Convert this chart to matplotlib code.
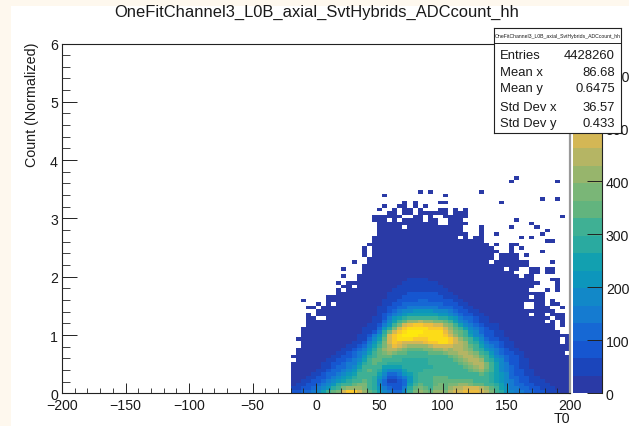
import numpy as np
import matplotlib
matplotlib.use("Agg")
import matplotlib.pyplot as plt
from matplotlib.colors import ListedColormap, Normalize
from matplotlib.patches import Rectangle

plt.rcParams['font.family'] = ['Liberation Sans', 'DejaVu Sans']

TITLE = "OneFitChannel3_L0B_axial_SvtHybrids_ADCcount_hh"
XLABEL = "T0"
YLABEL = "Count (Normalized)"
STATS_NAMES = ["Entries", "Mean x", "Mean y", "Std Dev x", "Std Dev y"]
STATS_VALUES = ["4428260", "86.68", "0.6475", "36.57", "0.433"]
XTICKS = [-200, -150, -100, -50, 0, 50, 100, 150, 200]
YTICKS = [0, 1, 2, 3, 4, 5, 6]
ZTICKS = [0, 100, 200, 300, 400, 500, 600]
ZMAX = 660
X_FIRST_BIN = -20
X_BIN_WIDTH = 4
Y_BIN_WIDTH = 0.06

PALETTE = ["#2a3aa6", "#1b45bb", "#1656d0", "#1668d4", "#157bd0", "#1288c8", "#0d96bc",
           "#12a0b0", "#2aaaa0", "#3fb094", "#62b47e", "#7ab677", "#97b56c", "#b5b564",
           "#d4b755", "#ecbc3f", "#f8c82d", "#fbd221", "#fcdc18", "#fee90d"]

# Read-off cell counts per symbol; ' ' is an empty cell.
SYMBOLS = "0123456789abcdefghij"
SYMBOL_COUNTS = [16, 49, 82, 115, 148, 181, 214, 247, 280, 313,
                 313, 346, 379, 412, 445, 478, 511, 544, 610, 643]

# Cells, top row first; groups of five bins, | only separates them.
ROWS = [
 "     |     |     |     |     |     |     |     |    0|     |     ",  # r61
 "     |     |     |     |     |     |     |     |   0 |     |  0  ",
 "     |     |     |     |     |     |     |     |     |     |     ",
 "     |     |     |     |     |     |     |     |     |     |     ",
 "     |     |     |     |     |0 0  |     |  0  |     |     |     ",  # r57
 "     |     |     |   0 |     |     |0    |     |     |     |     ",
 "     |     |     |     |     |     |     |     |     |    0|  0  ",
 "     |     |     |     |  0 0|    0|0    |     | 0   |     |     ",
 "     |     |     |   0 | 00 0| 0   |     |     |     |     |     ",
 "     |     |     |  0  |0 00 |0   0|0 0 0|     |     |     |     ",  # r52
 "     |     |     |    0|0 00 |00000|0 000|     |     |     |     ",
 "     |     |     | 0000|00  0|0 0  |00000|     |     |     |   0 ",
 "     |     |     | 000 |0 000|0 00 | 000 |     |    0|     |     ",
 "     |     |     |  000|00000|0000 | 0000|     |     |  0  |     ",
 "     |     |     |  000|00 00|00000|0000 |  0  |   0 |   0 |     ",  # r47
 "     |     |     |  000|00000|00000|0000 |  0  |     |     |0    ",
 "     |     |     |  000|00000|00000|00000|  0  |0    |    0|     ",
 "     |     |     | 0000|00000|00000|000 0| 00  |     |0 0  |     ",
 "     |     |     | 0000|00000|00000|00000|000  |     |     |00   ",
 "     |     |     |00000|00000|00000|00000|0000 |0  00|     |     ",  # r42
 "     |     |    0| 0000|00000|00000|00000|00000|   0 |0    |     ",
 "     |     |    0| 0000|00000|00000|00000|00000|0  0 |    0|     ",
 "     |     |    0| 0000|00000|00000|00000|00000| 0000| 0   |     ",
 "     |     |     |00000|00000|00000|00000|00000| 0000|     |     ",
 "     |     |  0  |00000|00000|00000|00000|0000 |00000|00   | 0   ",  # r37
 "     |     |    0|00000|00000|00000|00000|00000|00000|00   |     ",
 "     |     |0   0|00000|00000|00000|00000|00000|00 00|  00 |00   ",
 "     |     |    0|00000|00000|00000|00000|00000|0000 |  00 |00   ",
 "     |     |0  00|00000|00000|00000|00000|00000|00000| 00  |     ",
 "     |     |   00|00000|00011|11000|00000|00000|00000|000  | 00  ",  # r32
 "     |    0| 0000|00000|00111|11110|00000|00000|00000|0000 |  0  ",
 "     |     |00 00|00000|01111|11111|00000|00000|00000|000  |  0  ",
 "     |    0| 0000|00000|11111|11111|10000|00000|00000|00   |0 0  ",
 "     |    0|00000|00001|11122|22221|11000|00000|00000|00000|     ",
 "     |  000|00000|00001|11222|22222|11100|00000|00000|00 00|     ",  # r27
 "  0  |  000|00000|00011|12222|33222|22110|00000|00000|00000| 0   ",
 "     |0 0 0|00000|00011|22333|33333|22211|00000|00000|0  00| 00  ",
 "   00| 0000|00000|00112|23344|44443|33221|10000|00000|0  00|0  0 ",
 "     |00000|00000|00112|34556|66655|54322|11000|00000|00000|00   ",
 "   0 |00000|00000|00123|45677|77776|65432|21100|00000|00 00| 000 ",  # r22
 "   00|  000|00000|01124|6789a|aa998|87643|32110|00000|00000|0 00 ",
 "   00|00000|00000|01135|79bdd|eddcc|b9754|32110|00000|00000| 0 0 ",
 "   00|00000|00000|11246|9cfgh|hggff|dc975|43211|10000|00000|00 0 ",
 "  000|00000|00001|11368|cfhii|iihhh|fdb97|54321|10000|00000|00   ",
 "  000|00000|00001|1248c|fhijj|jiiii|gecb9|65322|11000|00000|000  ",  # r17
 "  000|00000|00011|246af|hijjj|iiiii|hfdb9|75422|11000|00000|00000",
 " 0000|00000|00011|357bf|hiiih|hhiii|ihfdb|97532|21100|00000|000 0",
 "  000|00000|00112|468cf|hgfff|fghhi|ihfed|a8643|32110|00000|000 0",
 "  000|00000|01123|579ce|gfedd|ddeff|ffeed|b9754|32110|00000|00000",
 " 0000|00000|11234|68bde|edcbb|bccdd|edeed|ca865|43211|00000|00000",  # r12
 " 0000|00001|12345|79bcd|cbbaa|aabbb|cddee|dca86|43221|10000|0000 ",
 "00000|00011|22346|8abbb|a9999|99aaa|abcde|edb97|54322|10000|00000",
 " 0000|00112|23457|9bba9|99888|88999|9abcd|eeda8|65322|11000|00000",
 "00000|01122|34468|aba98|88888|88999|99abc|deeca|75422|11000|00000",
 "00000|01123|34579|aa977|77888|88899|999ab|cdeca|75432|11000|00000",  # r7
 "00000|11233|4568a|ba865|55788|89999|9999a|bcdb9|75432|21100|00000",
 "00001|12334|5679a|a9753|34678|999aa|99999|9aba8|76532|21100|00000",
 "00011|22345|6789a|a8642|23468|99abb|baaaa|99a98|76533|22110|00000",
 "00112|23456|789ab|a8531|12368|a9abb|bbbbb|baa98|76543|22111|00000",
 "01122|34568|9abcc|a8532|2237a|baabc|bccdd|cbba9|87543|32211|10000",  # r2
 "11223|4568a|cdddc|a8643|2248b|cbacc|bdeef|ffedb|97644|33221|11000",
 "22334|579bc|fhhfd|b9754|3359c|dcbdd|ceffg|ggfec|a8654|43322|11100",
]

cells = [r.replace("|", "") for r in ROWS][::-1]
lookup = dict(zip(SYMBOLS, SYMBOL_COUNTS))
counts = np.array([[lookup.get(ch, np.nan) for ch in row] for row in cells], dtype=float)
counts = np.ma.masked_invalid(counts)
ny, nx = counts.shape
x_edges = X_FIRST_BIN + X_BIN_WIDTH * np.arange(nx + 1)
y_edges = Y_BIN_WIDTH * np.arange(ny + 1)

W, H = 629, 427
fig = plt.figure(figsize=(W / 100, H / 100), dpi=100, facecolor="#fef8ee")

def box(l, t, r, b):
    return [l / W, 1 - b / H, (r - l) / W, (b - t) / H]

fig.patches.append(Rectangle((11 / W, 0), 1 - 11 / W, 1 - 7 / H, transform=fig.transFigure,
                             facecolor="white", edgecolor="none", zorder=-5))

cmap = ListedColormap(PALETTE)
norm = Normalize(0, ZMAX)
INK = "#222222"
TXT = "#1a1a1a"

ax = fig.add_axes(box(62, 44.5, 570, 394.3))
ax.pcolormesh(x_edges, y_edges, counts, cmap=cmap, norm=norm, linewidth=0, rasterized=True)
ax.set_xlim(-200, 200)
ax.set_ylim(0, 6)
ax.set_xticks(XTICKS)
ax.set_yticks(YTICKS)
ax.set_xticks(np.arange(-200, 201, 10), minor=True)
ax.set_yticks(np.arange(0, 6.01, 0.2), minor=True)
ax.tick_params(axis='x', which='major', direction='in', length=7.5, width=0.7, color=INK,
               labelsize=10.2, pad=3.5, labelcolor=TXT)
ax.tick_params(axis='x', which='minor', direction='in', length=3.7, width=0.6, color=INK)
ax.tick_params(axis='y', which='major', direction='in', length=11, width=0.7, color=INK,
               labelsize=10.2, pad=3, labelcolor=TXT)
ax.tick_params(axis='y', which='minor', direction='in', length=5.6, width=0.6, color=INK)
for name, sp in ax.spines.items():
    sp.set_linewidth(0.8)
    sp.set_color(INK)
ax.spines['right'].set_color("#999999")
ax.spines['right'].set_linewidth(1.6)

fig.text(316.5 / W, 1 - 12 / H, TITLE, ha='center', va='center', fontsize=11.9, color=TXT)
fig.text(32 / W, 1 - 167 / H, YLABEL, rotation=90, ha='center', va='bottom', fontsize=10.3, color=TXT)
fig.text(570 / W, 1 - 419.5 / H, XLABEL, ha='right', va='center', fontsize=10.2, color=TXT)

cax = fig.add_axes(box(572.7, 44.5, 601.7, 394.3))
cax.pcolormesh([0, 1], (np.arange(21)) * ZMAX / 20, (np.arange(20)[:, None] + 0.5) * ZMAX / 20,
               cmap=cmap, norm=norm, linewidth=0)
cax.set_xlim(0, 1)
cax.set_ylim(0, ZMAX)
cax.set_xticks([])
cax.yaxis.tick_right()
cax.set_yticks(ZTICKS)
cax.tick_params(axis='y', direction='in', length=11, width=0.7, color=INK,
                labelsize=10.2, pad=3, labelcolor=TXT)
for name, sp in cax.spines.items():
    sp.set_visible(name == 'right')
    sp.set_linewidth(0.8)
    sp.set_color(INK)

st = fig.add_axes(box(494, 29, 620.7, 133.5), zorder=10)
st.set_xlim(494, 620.7)
st.set_ylim(133.5, 29)
st.set_xticks([])
st.set_yticks([])
st.set_facecolor("white")
for sp in st.spines.values():
    sp.set_linewidth(0.8)
    sp.set_color(INK)
st.axhline(44.3, color=INK, lw=0.7)
st.text(557.3, 36.6, TITLE, ha='center', va='center', fontsize=3.7, color=TXT)
STAT_Y = [56, 73, 89, 108, 124]
for y, n, v in zip(STAT_Y, STATS_NAMES, STATS_VALUES):
    st.text(500, y, n, ha='left', va='center', fontsize=9.4, color=TXT)
    st.text(615, y, v, ha='right', va='center', fontsize=9.4, color=TXT)

fig.savefig("out.png", dpi=100, facecolor=fig.get_facecolor())
